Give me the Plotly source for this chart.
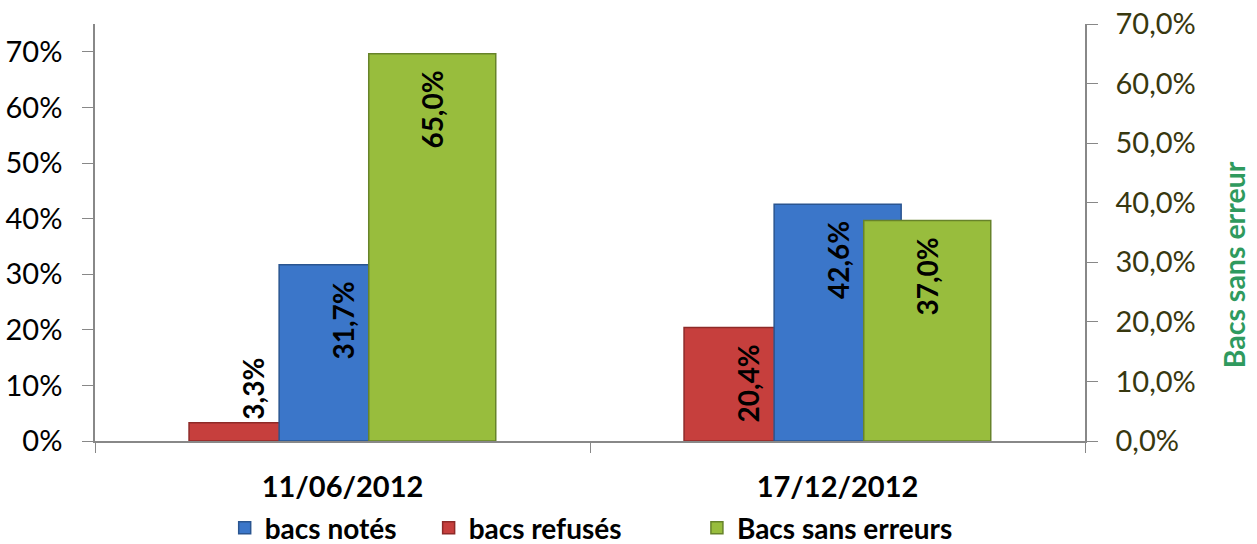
import plotly.graph_objects as go

categories = ["11/06/2012", "17/12/2012"]
bacs_notes = [0.317, 0.426]
bacs_refuses = [0.033, 0.204]
bacs_sans_erreurs = [0.650, 0.370]
labels_notes = ["31,7%", "42,6%"]
labels_refuses = ["3,3%", "20,4%"]
labels_sans = ["65,0%", "37,0%"]

FONT = "Lato"
W = 0.2566
PAD = "\u00a0\u00a0"

fig = go.Figure()

fig.add_trace(go.Bar(
    x=categories, y=bacs_refuses, name="bacs refusés",
    width=W, offset=-0.31,
    marker=dict(color="#c63f3d", line=dict(color="#8e2a28", width=1.5)),
    text=[labels_refuses[0], labels_refuses[1] + PAD], textposition=["outside", "inside"],
    insidetextanchor="end", textangle=-90, constraintext="none",
    textfont=dict(family=FONT, size=28, color="black", weight="bold"),
    cliponaxis=False, legend="legend2",
))
fig.add_trace(go.Bar(
    x=categories, y=bacs_notes, name="bacs notés",
    width=W, offset=-0.128,
    marker=dict(color="#3b76c9", line=dict(color="#2a5590", width=1.5)),
    text=[t + PAD for t in labels_notes], textposition="inside",
    insidetextanchor="end", textangle=-90, constraintext="none",
    textfont=dict(family=FONT, size=28, color="black", weight="bold"),
    legend="legend",
))
fig.add_trace(go.Bar(
    x=categories, y=bacs_sans_erreurs, name="Bacs sans erreurs",
    width=W, offset=0.053, yaxis="y2",
    marker=dict(color="#98bd3d", line=dict(color="#67832a", width=1.5)),
    text=[t + PAD for t in labels_sans], textposition="inside",
    insidetextanchor="end", textangle=-90, constraintext="none",
    textfont=dict(family=FONT, size=28, color="black", weight="bold"),
    legend="legend3",
))

legend_common = dict(orientation="h", yanchor="middle", y=-0.2086, xanchor="left",
                     font=dict(family=FONT, size=28, color="black", weight="bold"),
                     bgcolor="rgba(0,0,0,0)")

fig.update_layout(
    width=1257, height=544,
    margin=dict(l=95, r=172, t=24, b=103, autoexpand=False),
    paper_bgcolor="white", plot_bgcolor="white",
    separators=", ",
    barmode="overlay",
    font=dict(family=FONT, size=26, color="black"),
    showlegend=True,
    legend=dict(x=0.131, **legend_common),
    legend2=dict(x=0.337, **legend_common),
    legend3=dict(x=0.608, **legend_common),
    xaxis=dict(
        type="category", tickson="boundaries", ticks="outside", ticklen=10,
        tickcolor="#888888", showline=True, linecolor="#888888", linewidth=1.5,
        showgrid=False, tickfont=dict(family=FONT, size=29, color="black", weight="bold"),
        ticklabelstandoff=19, automargin=False,
    ),
    yaxis=dict(
        range=[0, 0.75], tickvals=[0, 0.1, 0.2, 0.3, 0.4, 0.5, 0.6, 0.7],
        tickformat=".0%", ticks="outside", ticklen=11, tickcolor="#888888",
        showline=True, linecolor="#888888", linewidth=1.5, showgrid=False,
        zeroline=False, tickfont=dict(family=FONT, size=29, color="black"),
        ticklabelstandoff=14, automargin=False,
    ),
    yaxis2=dict(
        range=[0, 0.7], tickvals=[0, 0.1, 0.2, 0.3, 0.4, 0.5, 0.6, 0.7],
        tickformat=".1%", overlaying="y", side="right", ticks="outside", ticklen=11,
        tickcolor="#888888", showline=True, linecolor="#888888", linewidth=1.5,
        showgrid=False, zeroline=False,
        tickfont=dict(family=FONT, size=29, color="#38380f"),
        ticklabelstandoff=12, automargin=False,
    ),
    annotations=[dict(
        text="<b>Bacs sans erreur</b>", textangle=-90, xref="paper", yref="paper",
        x=1.17, y=0.422, showarrow=False,
        font=dict(family=FONT, size=28.5, color="#2f9a5e"),
    )],
)

fig.write_html("out.html", config={"displayModeBar": False},
               post_script="document.body.style.margin='0';document.body.style.overflow='hidden';")
